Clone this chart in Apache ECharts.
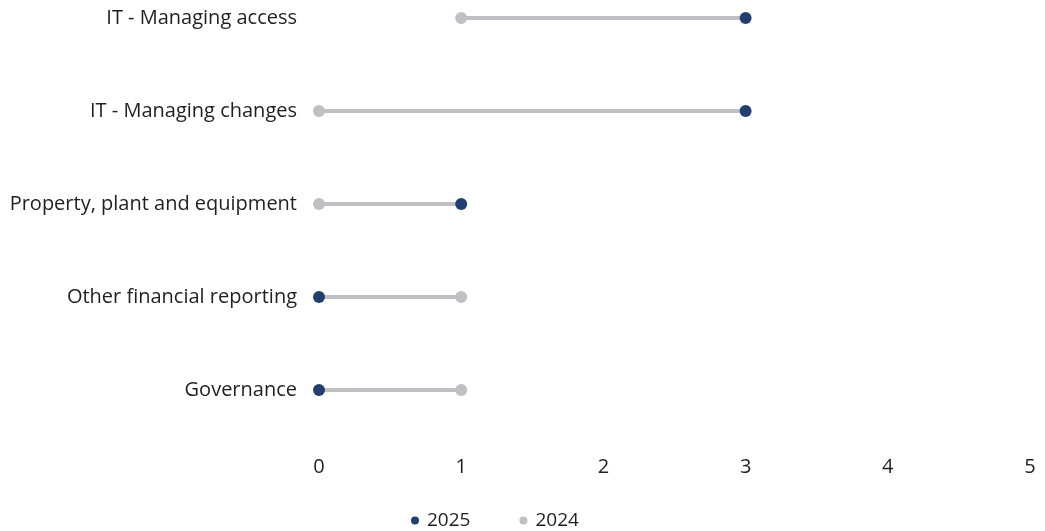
<!DOCTYPE html>
<html>
<head>
<meta charset="utf-8">
<script src="https://cdn.jsdelivr.net/npm/echarts@6/dist/echarts.min.js"></script>
<style>
  html, body { margin: 0; padding: 0; background: #fff; }
  #chart { width: 1045px; height: 531px; }
</style>
</head>
<body>
<div id="chart"></div>
<script>
// Control deficiency areas, listed top to bottom
const categories = [
  'IT - Managing access',
  'IT - Managing changes',
  'Property, plant and equipment',
  'Other financial reporting',
  'Governance'
];
const values2025 = [3, 3, 1, 0, 0];
const values2024 = [1, 0, 0, 1, 1];
const xTicks = [0, 1, 2, 3, 4, 5];

const NAVY = '#233f6f';
const GREY = '#bfc0c4';
const TEXT = '#1f1f1f';
const FONT = 'Open Sans';
const FS = 20;

const chart = echarts.init(document.getElementById('chart'), null, { renderer: 'canvas' });

// Connector rows: [index, 2024 value, 2025 value]
const connectorData = categories.map((c, i) => [i, values2024[i], values2025[i]]);

chart.setOption({
  animation: false,
  textStyle: { fontFamily: FONT },
  grid: { left: 319, right: 15, top: 18, height: 372, containLabel: false },
  xAxis: {
    type: 'value',
    min: xTicks[0],
    max: xTicks[xTicks.length - 1],
    interval: 1,
    axisLine: { show: false },
    axisTick: { show: false },
    splitLine: { show: false },
    axisLabel: { color: TEXT, fontSize: FS, fontFamily: FONT, margin: 67 }
  },
  yAxis: {
    type: 'category',
    data: categories,
    inverse: true,
    boundaryGap: false,
    axisLine: { show: false },
    axisTick: { show: false },
    splitLine: { show: false },
    axisLabel: { color: TEXT, fontSize: FS, fontFamily: FONT, margin: 22 }
  },
  legend: {
    left: 406,
    top: 506,
    icon: 'circle',
    itemWidth: 8,
    itemHeight: 8,
    itemGap: 49,
    textStyle: { color: TEXT, fontSize: 19, fontFamily: FONT, padding: [0, 0, 0, 3] },
    data: ['2025', '2024']
  },
  series: [
    {
      type: 'custom',
      name: 'connector',
      silent: true,
      z: 1,
      encode: { x: [1, 2], y: 0 },
      data: connectorData,
      renderItem: function (params, api) {
        const y = api.value(0);
        const a = api.coord([api.value(1), y]);
        const b = api.coord([api.value(2), y]);
        return {
          type: 'line',
          shape: { x1: a[0], y1: a[1], x2: b[0], y2: b[1] },
          style: { stroke: GREY, lineWidth: 4 }
        };
      }
    },
    {
      type: 'scatter',
      name: '2024',
      z: 2,
      symbol: 'circle',
      symbolSize: 12,
      itemStyle: { color: GREY, opacity: 1 },
      data: values2024.map((v, i) => [v, categories[i]])
    },
    {
      type: 'scatter',
      name: '2025',
      z: 3,
      symbol: 'circle',
      symbolSize: 12,
      itemStyle: { color: NAVY, opacity: 1 },
      data: values2025.map((v, i) => [v, categories[i]])
    }
  ]
});
</script>
</body>
</html>
